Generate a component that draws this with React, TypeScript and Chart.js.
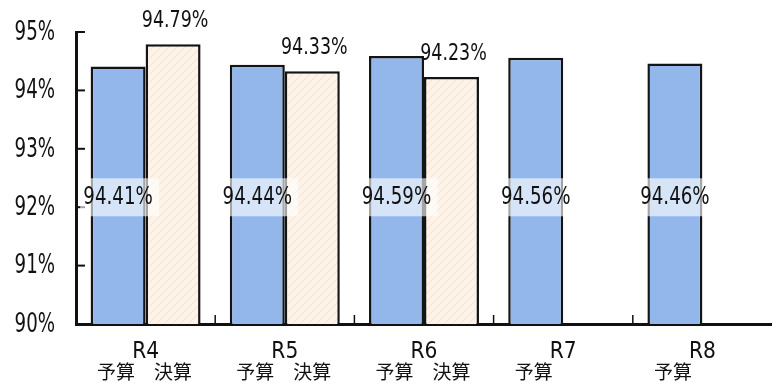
import { useEffect, useRef } from 'react';
import { Chart, registerables } from 'chart.js';

Chart.register(...registerables);

const categories = ['R4', 'R5', 'R6', 'R7', 'R8'];
const seriesNames = ['予算', '決算'];
const budgetValues = [94.41, 94.44, 94.59, 94.56, 94.46];
const actualValues: (number | null)[] = [94.79, 94.33, 94.23, null, null];
const yTicks = [90, 91, 92, 93, 94, 95];
const budgetLabelLevel = 92.17;

const NUM_FONT = '"DejaVu Sans", sans-serif';
const JP_FONT = '"Noto Sans CJK JP", sans-serif';

const fmt = (v: number) => v.toFixed(2) + '%';

function narrowText(ctx: CanvasRenderingContext2D, t: string, x: number, y: number, sx: number, align: CanvasTextAlign) {
  ctx.save();
  ctx.translate(x, y);
  ctx.scale(sx, 1);
  ctx.textAlign = align;
  ctx.fillText(t, 0, 0);
  ctx.restore();
}

const decor = {
  id: 'decor',
  afterDatasetsDraw(chart: any) {
    const { ctx, chartArea, scales } = chart;
    const x = scales.x;
    const y = scales.y;
    ctx.save();
    ctx.strokeStyle = '#111';
    ctx.fillStyle = '#111';
    ctx.textBaseline = 'middle';
    // y tick marks (inward) and labels
    ctx.lineWidth = 2;
    ctx.font = `26px ${NUM_FONT}`;
    yTicks.forEach((v) => {
      const py = y.getPixelForValue(v);
      ctx.beginPath();
      ctx.moveTo(chartArea.left, py);
      ctx.lineTo(chartArea.left + 9, py);
      ctx.stroke();
      narrowText(ctx, v + '%', chartArea.left - 21, py + 1, 0.7, 'right');
    });
    // category boundary ticks
    ctx.lineWidth = 1.5;
    for (let i = 0; i < categories.length - 1; i++) {
      const px = (x.getPixelForValue(i) + x.getPixelForValue(i + 1)) / 2;
      ctx.beginPath();
      ctx.moveTo(px, chartArea.bottom);
      ctx.lineTo(px, chartArea.bottom - 9);
      ctx.stroke();
    }
    const m0 = chart.getDatasetMeta(0);
    const m1 = chart.getDatasetMeta(1);
    // category labels
    categories.forEach((c, i) => {
      ctx.font = `23px ${NUM_FONT}`;
      narrowText(ctx, c, x.getPixelForValue(i), chartArea.bottom + 28, 0.88, 'center');
      ctx.font = `19px ${JP_FONT}`;
      ctx.textAlign = 'center';
      ctx.fillText(seriesNames[0], m0.data[i].x - 2, chartArea.bottom + 48);
      if (actualValues[i] != null) {
        ctx.fillText(seriesNames[1], m1.data[i].x, chartArea.bottom + 48);
      }
    });
    // budget value labels with translucent box
    const ly = y.getPixelForValue(budgetLabelLevel);
    ctx.font = `24px ${NUM_FONT}`;
    budgetValues.forEach((v, i) => {
      const cx = m0.data[i].x;
      ctx.fillStyle = 'rgba(255,255,255,0.62)';
      ctx.fillRect(cx - 38, ly - 19, 79, 38);
      ctx.fillStyle = '#111';
      narrowText(ctx, fmt(v), cx, ly, 0.76, 'center');
    });
    // actual value labels above bars
    ctx.font = `23px ${NUM_FONT}`;
    actualValues.forEach((v, i) => {
      if (v == null) return;
      const el = m1.data[i];
      narrowText(ctx, fmt(v), el.x + 2, el.y - 23, 0.76, 'center');
    });
    ctx.restore();
  },
};

export default function App() {
  const ref = useRef<HTMLCanvasElement>(null);
  useEffect(() => {
    const canvas = ref.current!;
    const pc = document.createElement('canvas');
    pc.width = 8;
    pc.height = 8;
    const p = pc.getContext('2d')!;
    p.fillStyle = '#FDF3E8';
    p.fillRect(0, 0, 8, 8);
    p.strokeStyle = '#F7E2CF';
    p.lineWidth = 1;
    p.beginPath();
    p.moveTo(0, 8); p.lineTo(8, 0);
    p.moveTo(-4, 4); p.lineTo(4, -4);
    p.moveTo(4, 12); p.lineTo(12, 4);
    p.stroke();
    const hatch = canvas.getContext('2d')!.createPattern(pc, 'repeat');

    const chart = new Chart(canvas, {
      type: 'bar',
      data: {
        labels: categories,
        datasets: [
          {
            label: seriesNames[0],
            data: budgetValues,
            backgroundColor: '#93B7EB',
            borderColor: '#141414',
            borderWidth: 2.5,
            categoryPercentage: 0.79,
            barPercentage: 1,
          },
          {
            label: seriesNames[1],
            data: actualValues,
            backgroundColor: hatch as any,
            borderColor: '#141414',
            borderWidth: 2.5,
            categoryPercentage: 0.79,
            barPercentage: 1,
          },
        ],
      },
      options: {
        responsive: false,
        animation: false,
        devicePixelRatio: 1,
        layout: { padding: { top: 32, right: 0, left: 0, bottom: 0 } },
        plugins: { legend: { display: false }, tooltip: { enabled: false } },
        scales: {
          x: {
            grid: { display: true, drawOnChartArea: false, drawTicks: false },
            border: { display: true, color: '#111', width: 3 },
            ticks: { display: false },
            afterFit: (s: any) => { s.height = 59; },
          },
          y: {
            min: 90,
            max: 95,
            grid: { display: true, drawOnChartArea: false, drawTicks: false },
            border: { display: true, color: '#111', width: 3 },
            ticks: { display: false, stepSize: 1 },
            afterFit: (s: any) => { s.width = 76; },
          },
        },
      },
      plugins: [decor],
    });
    return () => chart.destroy();
  }, []);
  return (
    <div style={{ position: 'fixed', left: 0, top: 0, width: 772, height: 383, background: '#fff' }}>
      <canvas ref={ref} width={772} height={383} />
    </div>
  );
}
